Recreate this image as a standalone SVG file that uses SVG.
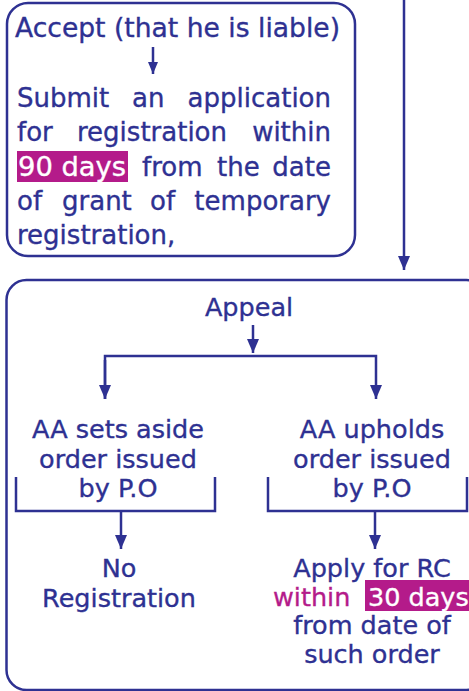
<svg xmlns="http://www.w3.org/2000/svg" width="469" height="691" viewBox="0 0 469 691">
  <defs>
    <style>
      .box { fill: none; stroke: #2e3192; stroke-width: 2.5; }
      .line { fill: none; stroke: #2e3192; stroke-width: 2.5; }
      .t { font-family: "DejaVu Sans", Verdana, sans-serif; font-size: 25.5px; fill: #2e3192; stroke: #2e3192; stroke-width: 0.35; }
      .tl { font-family: "DejaVu Sans", Verdana, sans-serif; font-size: 26px; fill: #2e3192; stroke: #2e3192; stroke-width: 0.35; }
      .c { text-anchor: middle; }
      .e { text-anchor: end; }
      .w { fill: #ffffff; stroke: #ffffff; }
      .m { fill: #b41b8a; stroke: #b41b8a; }
      .hl { fill: #b41b8a; }
    </style>
    <marker id="arr" markerUnits="userSpaceOnUse" markerWidth="14" markerHeight="12" refX="14" refY="6" orient="auto">
      <path d="M0,0 L14,6 L0,12 Z" fill="#2e3192"/>
    </marker>
    <marker id="arrs" markerUnits="userSpaceOnUse" markerWidth="12" markerHeight="10" refX="12" refY="5" orient="auto">
      <path d="M0,0 L12,5 L0,10 Z" fill="#2e3192"/>
    </marker>
  </defs>

  <g id="accept-box">
    <rect class="box" x="7" y="3" width="348" height="253" rx="21"/>
    <text class="tl" x="15" y="37" textLength="325" lengthAdjust="spacingAndGlyphs">Accept (that he is liable)</text>
    <text class="tl" y="107"><tspan x="17">Submit</tspan><tspan x="132">an</tspan></text>
    <text class="tl e" x="331" y="107">application</text>
    <text class="tl" y="141"><tspan x="17">for</tspan><tspan x="77">registration</tspan></text>
    <text class="tl e" x="331" y="141">within</text>
    <rect class="hl" x="17" y="151" width="111" height="31"/>
    <text class="tl w" x="18" y="175.5" textLength="108" lengthAdjust="spacingAndGlyphs">90 days</text>
    <text class="tl" y="175.5"><tspan x="142">from</tspan><tspan x="217">the</tspan></text>
    <text class="tl e" x="331" y="175.5">date</text>
    <text class="tl" y="210"><tspan x="17">of</tspan><tspan x="62">grant</tspan><tspan x="150">of</tspan></text>
    <text class="tl e" x="331" y="210">temporary</text>
    <text class="tl" x="17" y="244">registration,</text>
  </g>

  <g id="appeal-box">
    <rect class="box" x="6.5" y="280" width="480" height="410" rx="20"/>
    <text class="t c" x="249" y="316">Appeal</text>
  </g>

  <g id="aa-sets-aside">
    <path class="line" d="M16,477 V511 H215 V477"/>
    <text class="t c" x="118" y="438">AA sets aside</text>
    <text class="t c" x="118" y="467.5">order issued</text>
    <text class="t c" x="118" y="497">by P.O</text>
  </g>

  <g id="aa-upholds">
    <path class="line" d="M268,477 V511 H467 V477"/>
    <text class="t c" x="372" y="438">AA upholds</text>
    <text class="t c" x="372" y="467.5">order issued</text>
    <text class="t c" x="372" y="497">by P.O</text>
  </g>

  <g id="no-registration">
    <text class="t c" x="119" y="577">No</text>
    <text class="t c" x="119" y="606.5">Registration</text>
  </g>

  <g id="apply-rc">
    <text class="t c" x="372" y="577">Apply for RC</text>
    <rect class="hl" x="365" y="580" width="104" height="31"/>
    <text class="t m" x="273" y="605.5">within</text>
    <text class="t w" x="368" y="605.5">30 days</text>
    <text class="t c" x="372" y="634">from date of</text>
    <text class="t c" x="372" y="662.5">such order</text>
  </g>

  <g id="connectors">
    <line class="line" x1="404" y1="0" x2="404" y2="270" marker-end="url(#arr)"/>
    <line class="line" x1="153" y1="47" x2="153" y2="74" marker-end="url(#arrs)"/>
    <line class="line" x1="253" y1="325" x2="253" y2="353" marker-end="url(#arr)"/>
    <path class="line" d="M105,399 V356 H376 V399" marker-end="url(#arr)"/>
    <line class="line" x1="105" y1="360" x2="105" y2="399" marker-end="url(#arr)"/>
    <line class="line" x1="121" y1="511" x2="121" y2="549" marker-end="url(#arr)"/>
    <line class="line" x1="375" y1="511" x2="375" y2="549" marker-end="url(#arr)"/>
  </g>
</svg>
